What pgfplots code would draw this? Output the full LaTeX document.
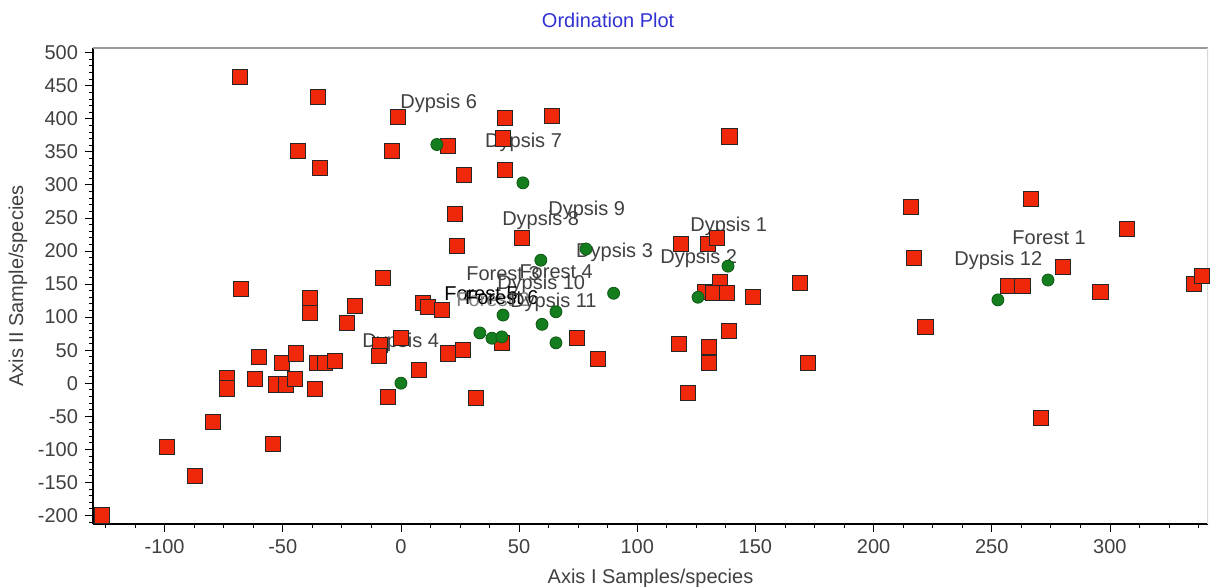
\documentclass[border=0pt]{standalone}
\usepackage{pgfplots}
\pgfplotsset{compat=1.18}
\usepackage{fontspec}
\setmainfont{Liberation Sans}

\definecolor{sqred}{RGB}{240,40,10}
\definecolor{dotgreen}{RGB}{20,125,30}
\definecolor{labgray}{RGB}{64,64,64}
\definecolor{titleblue}{RGB}{50,50,210}

\begin{document}
\begin{tikzpicture}
\begin{axis}[
    scale only axis,
    width=557.5pt, height=238pt,
    xmin=-130.3, xmax=341.5,
    ymin=-213, ymax=507,
    axis lines*=left,
    axis line style={line width=1.3pt, black},
    tick align=outside,
    xtick distance=50, ytick distance=50,
    minor x tick num=3, minor y tick num=4,
    major tick length=4pt, minor tick length=2pt,
    tick style={black, thin},
    /pgf/number format/assume math mode=true,
    tick label style={font=\fontsize{10}{12}\selectfont, text=labgray},
    title={Ordination Plot},
    title style={at={(axis description cs:0.462,1.0336)}, anchor=center, yshift=0pt,
        font=\fontsize{10}{12}\selectfont, text=titleblue},
    xlabel={Axis I Samples/species},
    xlabel style={at={(axis description cs:0.5,-0.115)}, anchor=center,
        font=\fontsize{10}{12}\selectfont, text=labgray},
    ylabel={Axis II Sample/species},
    ylabel style={at={(axis description cs:-0.0673,0.5)}, anchor=center,
        font=\fontsize{10}{12}\selectfont, text=labgray},
]
\draw[gray!80, line width=1pt] (rel axis cs:0,1) -- (rel axis cs:1,1);
\draw[gray!30, line width=0.6pt] (rel axis cs:1,0) -- (rel axis cs:1,1);

% species (red squares)
\addplot[only marks, mark=square*, mark size=3.8pt,
    mark options={fill=sqred, draw=black!85, line width=0.5pt}]
table{%
x y
-68.1 463.6
-35.1 433
-43.6 351
-34.3 326
-1.3 403
-3.8 351
19.9 359
44 401
63.9 404
43.2 370
44 323
26.7 315
22.9 256
23.7 208
51.2 220
139 373
118.5 211
130 211
133.7 220
135 153
128.6 138
132 136
138 136
149 130
138.8 79
130.3 55
130.3 30
117.6 59
121.5 -15
168.8 151
172.2 30
215.8 267
266.6 279
307.2 233
217 189
280 176
257 147
263 147
296 138
335.6 150
339 162
222 85
270.8 -53
-67.7 142
-38.5 129
-38.5 106
-19.5 117
-22.9 91
-7.6 159
-60 39
-50.4 30
-44.4 45
-35.5 30
-32 30
-28 33
-61.8 6
-73.6 7
-73.6 -8
-52.9 -2
-48.7 -2
-44.9 6
-36.4 -9
-79.6 -59
-99 -97
-54.2 -92
-87.2 -141
-126.5 -200
-8.9 58
-9.3 41
-5.5 -21
0 68
9.3 121
11.4 115
17.4 111
19.9 45
26.2 50
7.6 20
31.7 -23
42.7 61
74.5 68
83.4 36
};

% sample labels
\tikzset{lab/.style={anchor=west, inner sep=0pt, font=\fontsize{10}{12}\selectfont, text=labgray}}
\node[lab] at (axis cs:-0.4,424) {Dypsis 6};
\node[lab] at (axis cs:35.5,365) {Dypsis 7};
\node[lab] at (axis cs:62.2,262) {Dypsis 9};
\node[lab] at (axis cs:42.7,247) {Dypsis 8};
\node[lab] at (axis cs:122.3,238) {Dypsis 1};
\node[lab] at (axis cs:74,198) {Dypsis 3};
\node[lab] at (axis cs:109.6,189) {Dypsis 2};
\node[lab] at (axis cs:258.6,220) {Forest 1};
\node[lab] at (axis cs:234,186) {Dypsis 12};
\node[lab] at (axis cs:27.5,165) {Forest 3};
\node[lab] at (axis cs:50,168) {Forest 4};
\node[lab] at (axis cs:40.6,150) {Dypsis 10};
\node[lab, text=black] at (axis cs:18.2,136) {Forest 5};
\node[lab, text=gray] at (axis cs:23.3,126) {Forest 2};
\node[lab, text=black] at (axis cs:27,130) {Forest 6};
\node[lab] at (axis cs:46.1,123) {Dypsis 11};
\node[lab] at (axis cs:-16.5,62) {Dypsis 4};

% samples (green dots)
\addplot[only marks, mark=*, mark size=3pt,
    mark options={fill=dotgreen, draw=dotgreen!70!black, line width=0.4pt}]
table{%
x y
15.2 361
51.6 303
59.2 186
78.3 203
90 136
138.4 177
125.7 130
252.6 126
273.8 156
43.2 103
65.6 108
59.7 89
65.6 61
33.4 76
38.5 68
42.7 70
0 0
};
\end{axis}
\pgfresetboundingbox
\path ([xshift=-46.5pt,yshift=-31.5pt]current axis.south west)
    rectangle ([xshift=1pt,yshift=24pt]current axis.north east);
\end{tikzpicture}
\end{document}
